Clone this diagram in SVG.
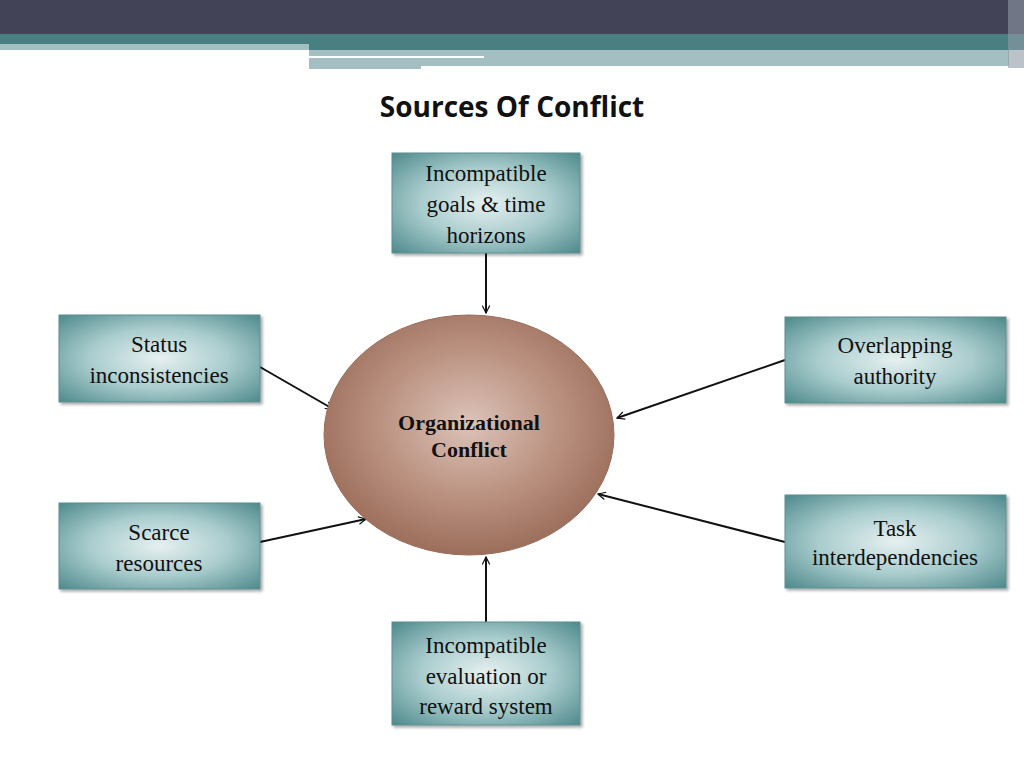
<svg xmlns="http://www.w3.org/2000/svg" width="1024" height="768" viewBox="0 0 1024 768">
<style>
.bt{font-family:"Liberation Serif",serif;font-size:23px;fill:#111;text-anchor:middle}
.box{fill:url(#bg);stroke:#5c8f92;stroke-width:1;filter:url(#sh)}
.cn{stroke:#111;stroke-width:2;fill:none;marker-end:url(#ah)}
</style>
<defs>
<radialGradient id="bg" cx="50%" cy="50%" r="70%">
<stop offset="0" stop-color="#e6f0f0"/><stop offset="0.5" stop-color="#a9cccd"/><stop offset="1" stop-color="#4f8a8c"/>
</radialGradient>
<radialGradient id="eg" cx="50%" cy="45%" r="55%">
<stop offset="0" stop-color="#dcc3b9"/><stop offset="0.6" stop-color="#b88e7c"/><stop offset="1" stop-color="#9c6e5c"/>
</radialGradient>
<filter id="sh" x="-10%" y="-10%" width="130%" height="130%"><feDropShadow dx="2" dy="2" stdDeviation="1.5" flood-color="#000" flood-opacity="0.35"/></filter>
<marker id="ah" viewBox="0 0 12 12" refX="11" refY="6" markerWidth="9" markerHeight="9" markerUnits="userSpaceOnUse" orient="auto"><path d="M1,1 L11,6 L1,11" fill="none" stroke="#111" stroke-width="1.6"/></marker>
</defs>
<rect width="1024" height="768" fill="#fff"/>
<g id="header">
<rect x="0" y="0" width="1024" height="34" fill="#424357"/>
<rect x="0" y="34" width="1024" height="16" fill="#4a7f82"/>
<rect x="0" y="44" width="309" height="6" fill="#a3bfc1"/>
<rect x="309" y="50" width="700" height="16" fill="#a3bfc1"/>
<rect x="309" y="66" width="112" height="3" fill="#a3bfc1"/>
<rect x="309" y="56" width="175" height="2" fill="#fff"/>
<rect x="1008" y="0" width="16" height="68" fill="#8f9aa5" opacity="0.6"/>
</g>
<text x="512" y="117" font-family="'Open Sans','DejaVu Sans',sans-serif" font-size="28" font-weight="bold" fill="#111" text-anchor="middle">Sources Of Conflict</text>
<g id="connectors">
<line class="cn" x1="486" y1="253" x2="486" y2="313"/>
<line class="cn" x1="486" y1="622" x2="486" y2="557"/>
<line class="cn" x1="260" y1="367" x2="333" y2="409"/>
<line class="cn" x1="260" y1="542" x2="366" y2="519"/>
<line class="cn" x1="785" y1="360" x2="617" y2="418"/>
<line class="cn" x1="785" y1="542" x2="598" y2="494"/>
</g>
<g id="center">
<ellipse cx="469" cy="435" rx="145" ry="120" fill="url(#eg)" stroke="#9a6d5c" stroke-width="1"/>
<text x="469" y="430" font-family="'Liberation Serif',serif" font-size="22" font-weight="bold" fill="#111" text-anchor="middle">Organizational</text>
<text x="469" y="457" font-family="'Liberation Serif',serif" font-size="22" font-weight="bold" fill="#111" text-anchor="middle">Conflict</text>
</g>
<g id="n-goals"><rect class="box" x="392" y="153" width="188" height="100"/>
<text class="bt" x="486" y="181">Incompatible</text><text class="bt" x="486" y="212">goals &amp; time</text><text class="bt" x="486" y="243">horizons</text></g>
<g id="n-status"><rect class="box" x="59" y="315" width="201" height="87"/>
<text class="bt" x="159" y="352">Status</text><text class="bt" x="159" y="383">inconsistencies</text></g>
<g id="n-overlap"><rect class="box" x="785" y="317" width="221" height="86"/>
<text class="bt" x="895" y="353">Overlapping</text><text class="bt" x="895" y="384">authority</text></g>
<g id="n-scarce"><rect class="box" x="59" y="503" width="201" height="86"/>
<text class="bt" x="159" y="540">Scarce</text><text class="bt" x="159" y="571">resources</text></g>
<g id="n-task"><rect class="box" x="785" y="495" width="221" height="93"/>
<text class="bt" x="895" y="536">Task</text><text class="bt" x="895" y="565">interdependencies</text></g>
<g id="n-eval"><rect class="box" x="392" y="622" width="188" height="103"/>
<text class="bt" x="486" y="653">Incompatible</text><text class="bt" x="486" y="684">evaluation or</text><text class="bt" x="486" y="714">reward system</text></g>
</svg>
